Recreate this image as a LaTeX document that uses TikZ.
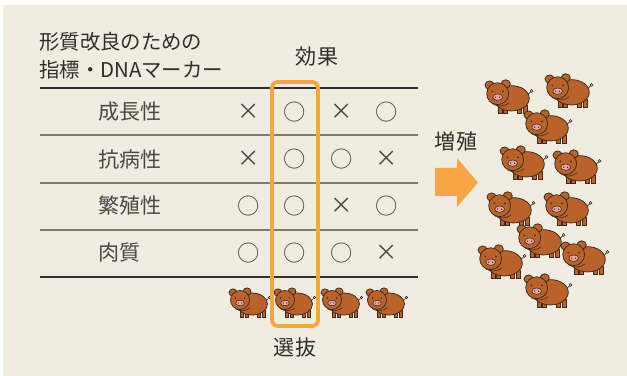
\documentclass[tikz,border=0pt]{standalone}
\usepackage{fontspec}
\setmainfont{Noto Sans CJK JP}
\usepackage{xcolor}
\usepackage{tikz}
\usetikzlibrary{positioning}
\tikzset{
  head txt/.style={font=\fontsize{17.4}{23.5}\selectfont, text=inkTxt,
    inner sep=0pt},
  row txt/.style={font=\fontsize{18}{21}\selectfont, text=rowTxt,
    inner sep=0pt, anchor=west},
  mark txt/.style={font=\fontsize{19}{21}\selectfont, text=rowTxt,
    inner sep=0pt},
  thick rule/.style={line width=1.5pt, draw=inkTxt},
  thin rule/.style={line width=0.9pt, draw=ruleGray},
  sel box/.style={line width=3.3pt, draw=selOrange, rounded corners=5pt},
  pig ink/.style={draw=pigLine, line width=0.65pt},
  pig/.pic={
    % legs, tail, body, ears, head, snout
    \foreach \lx in {-7,-2,10,15}
      \draw[pig ink, fill=pigFill] (\lx-1.7,8) rectangle (\lx+1.7,15.5);
    \draw[pig ink, line width=0.5pt] (17.5,-1.5) -- (19.6,-3.6);
    \draw[pig ink, line width=0.5pt] (20.5,-4.4) circle[radius=1.2];
    \draw[pig ink, fill=pigFill] (3,2) ellipse[x radius=15.5, y radius=11];
    \draw[pig ink, fill=pigFill] (-16,-9.5) ellipse[x radius=4, y radius=3.6];
    \draw[pig ink, fill=pigFill] (-2,-10.5) ellipse[x radius=4, y radius=3.6];
    \draw[pig ink, fill=pigFill] (-9,-2) circle[radius=9.5];
    \draw[pig ink, line width=0.5pt] (-14,6.5) .. controls (-9,10) and (-3,9) .. (1,6);
    \draw[pig ink, fill=pigNose, line width=0.5pt] (-9,1) ellipse[x radius=4.3, y radius=2.8];
    \fill[pigLine] (-10.7,1) circle[radius=0.65] (-7.3,1) circle[radius=0.65];
    \fill[pigLine] (-13.6,-4) circle[radius=0.85] (-4.4,-4) circle[radius=0.85];
  }
}
\definecolor{paperBg}{HTML}{F1ECE0}
\definecolor{inkTxt}{HTML}{2E2E2C}
\definecolor{rowTxt}{HTML}{484846}
\definecolor{ruleGray}{HTML}{7C7B76}
\definecolor{selOrange}{HTML}{F8A548}
\definecolor{pigFill}{HTML}{B9622A}
\definecolor{pigLine}{HTML}{3A2A1F}
\definecolor{pigNose}{HTML}{EBA5A0}

\begin{document}
\begin{tikzpicture}[x=0.03cm, y=-0.03cm]

  \fill[white] (0,0) rectangle (627,376);
  \fill[paperBg] (3,5) rectangle (627,376);
  \useasboundingbox (0,0) rectangle (627,376);

  % headings
  \node[head txt, align=left, anchor=west] (hdr) at (39,56)
    {形質改良のための\\指標・DNAマーカー};
  \node[head txt, font=\fontsize{18}{21}\selectfont] (eff) at (317,57) {効果};

  % table rules
  \draw[thick rule] (40,88) -- (418,88);
  \foreach \y in {135,183,230}
    \draw[thin rule] (40,\y) -- (418,\y);
  \draw[thick rule] (40,277) -- (418,277);

  % rows: trait, then one mark per candidate
  \foreach \lbl/\y/\ma/\mb/\mc/\md [count=\i] in
    {成長性/112/×/○/×/○, 抗病性/159/×/○/○/×,
     繁殖性/206/○/○/×/○, 肉質/253/○/○/○/×}{
    \node[row txt] (trait\i) at (98,\y) {\lbl};
    \node[mark txt] (mk\i-1) at (249,\y) {\ma};
    \node[mark txt] (mk\i-2) at (295,\y) {\mb};
    \node[mark txt] (mk\i-3) at (342,\y) {\mc};
    \node[mark txt] (mk\i-4) at (387,\y) {\md};
  }

  % candidates under the table
  \foreach \px [count=\k] in {249,294,341,386}
    \pic (cand\k) at (\px,302) {pig};

  \draw[sel box] (272,82) rectangle (318,326);
  \node[head txt, font=\fontsize{18}{21}\selectfont] (sel) at (295,348) {選抜};

  % breeding step
  \node[head txt, font=\fontsize{18}{21}\selectfont] (grow) at (456,142) {増殖};
  \fill[selOrange] (435,168) -- (457,168) -- (457,158) -- (478,182.5)
    -- (457,207) -- (457,196) -- (435,196) -- cycle;

  \foreach \px/\py [count=\k] in {508/96, 568/90, 547/126, 523/162, 576/166,
      510/208, 567/208, 540/240, 501/261, 584/257, 547/290}
    \pic[scale=1.15] (herd\k) at (\px,\py) {pig};

\end{tikzpicture}
\end{document}
